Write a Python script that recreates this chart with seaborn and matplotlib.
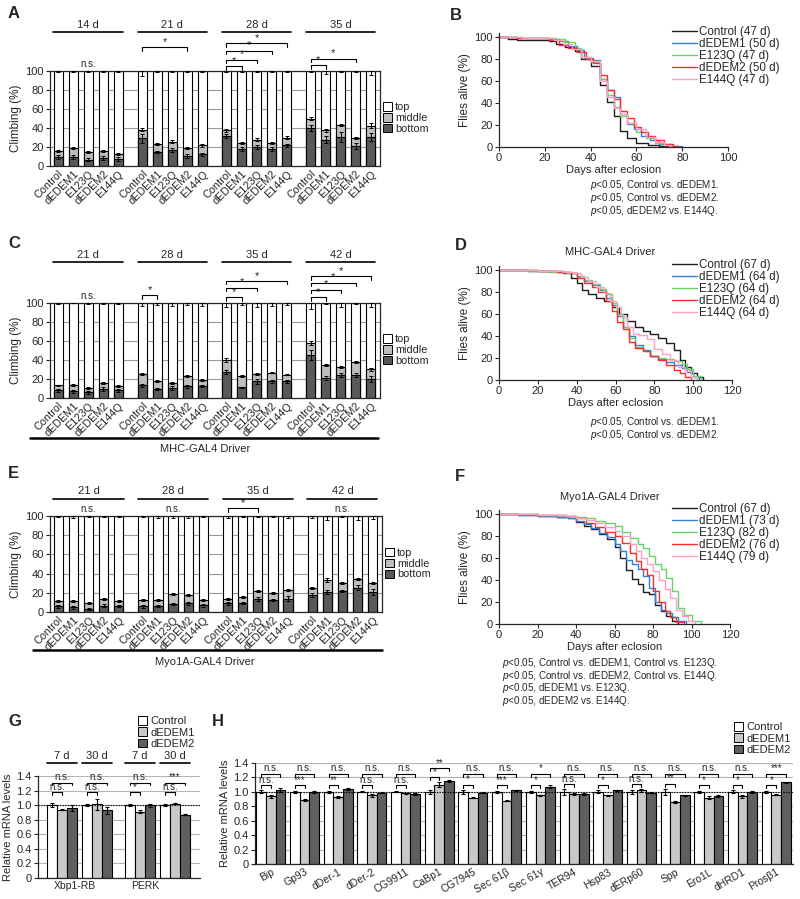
import matplotlib
matplotlib.use("Agg")
import matplotlib.pyplot as plt
import pandas as pd
import seaborn as sns
from matplotlib.lines import Line2D
from matplotlib.patches import Patch

sns.set_style("ticks")
plt.rcParams["font.family"] = ["Liberation Sans", "DejaVu Sans"]
plt.rcParams["mathtext.fontset"] = "custom"
plt.rcParams["mathtext.it"] = "Liberation Sans:italic"
plt.rcParams["mathtext.rm"] = "Liberation Sans"
plt.rcParams["axes.linewidth"] = 0.9

W, H = 800, 899

genotypes = ["Control", "dEDEM1", "E123Q", "dEDEM2", "E144Q"]

# ---- climbing assays (bottom and bottom+middle, %) ----
a_days = ["14 d", "21 d", "28 d", "35 d"]
a_bottom = [[9.5, 9.5, 6.7, 8.8, 7.4], [29, 14.8, 17, 10.6, 12.3],
            [31.3, 17.6, 20, 17.6, 21.8], [40, 27.8, 30.6, 20.8, 30.6]]
a_total = [[16, 19, 15, 15.5, 12.3], [38.4, 23, 25.4, 19.4, 21.8],
           [37.7, 24.6, 27.8, 24.6, 29.9], [49.6, 37.7, 43, 29.6, 42.3]]
a_bottom_err = [[2, 2, 1.5, 2, 2], [5, 1.5, 2, 2, 1.5], [2, 2, 2, 2, 1.5], [3, 4, 5, 3, 4]]
a_total_err = [[1, 1.5, 1, 1, 1], [2, 1, 1.5, 1, 1.5], [1.5, 1, 1.5, 1, 1.5], [1.5, 1.5, 1, 1, 2.5]]
a_top_err = [[1, 1, 1, 1, 1], [5, 1, 1, 1, 1], [1, 1, 1, 1, 1], [1, 3, 1, 1, 4]]
a_brackets = [(1, 0, 3, 125, "*"), (2, 0, 1, 105, "*"), (2, 0, 2, 112, "*"), (2, 0, 3, 121, "*"),
              (2, 0, 4, 129, "*"), (3, 0, 1, 106, "*"), (3, 0, 3, 113, "*")]
a_ns = [(0, 102)]

c_days = ["21 d", "28 d", "35 d", "42 d"]
c_bottom = [[8, 7, 6, 9.8, 8], [13.6, 9.4, 10.5, 12.2, 12.2],
            [27.5, 11.1, 17.4, 17.4, 17.4], [45.3, 20.9, 24.4, 24.4, 20.2]]
c_total = [[13.2, 13.6, 10.5, 16, 12.9], [25, 17.8, 16, 23.3, 19.2],
           [39.7, 23.3, 25.4, 26.8, 24.7], [58, 34.8, 32.4, 37.6, 30.3]]
c_bottom_err = [[1.5, 1.5, 1.5, 2, 1.5], [1.5, 1.5, 2, 1.5, 1], [2, 1, 3, 2, 2], [5, 2, 2, 2, 3]]
c_total_err = [[1, 1, 1, 1, 1], [1, 1, 1, 1, 1], [2, 1, 1, 1, 1], [2, 1.5, 1, 1, 1.5]]
c_top_err = [[1, 0.5, 1, 1, 1], [3, 2, 3, 2, 3], [4, 2, 4, 3, 2], [6, 1, 4, 1, 4]]
c_brackets = [(1, 0, 1, 108, "*"), (2, 0, 1, 106, "*"), (2, 0, 2, 116, "*"), (2, 0, 4, 123, "*"),
              (3, 0, 1, 106, "*"), (3, 0, 2, 114, "*"), (3, 0, 3, 121, "*"), (3, 0, 4, 128, "*")]
c_ns = [(0, 102)]

e_days = ["21 d", "28 d", "35 d", "42 d"]
e_bottom = [[5.9, 4.9, 2.8, 6.6, 6.3], [5.9, 6.3, 8.3, 9, 7],
            [9, 9, 13.6, 12.2, 13.9], [18.1, 21.2, 21.9, 25.4, 20.5]]
e_total = [[11.8, 11.1, 9, 13.6, 11.8], [12.2, 12.9, 18.4, 17.4, 12.9],
           [13.2, 16, 21.9, 19.8, 23], [24.7, 33, 30, 34.4, 30.3]]
e_bottom_err = [[1.5, 1.5, 1, 1.5, 1.5], [1.5, 1.5, 1.5, 1.5, 1.5], [1.5, 1, 2, 1, 2.5], [2, 2, 1.5, 3, 3]]
e_total_err = [[1, 1, 1, 1, 1], [1, 1, 1, 1, 1], [1, 1, 1, 1, 1], [1, 2, 1, 1, 1]]
e_top_err = [[1, 2, 1, 1, 1], [1, 2, 2, 2, 1], [2, 1, 1, 1, 2], [2, 4, 1, 4, 3]]
e_brackets = [(2, 0, 2, 108, "*")]
e_ns = [(0, 102), (1, 102), (3, 102)]

# ---- survival curves (day, % alive) ----
b_labels = ["Control (47 d)", "dEDEM1 (50 d)", "E123Q (47 d)", "dEDEM2 (50 d)", "E144Q (47 d)"]
b_ctrl_t = [0, 4, 8, 22, 25, 29, 33, 36, 40, 44, 47, 50, 53, 56, 60, 65, 70, 74]
b_ctrl_s = [100, 98, 97, 96, 94, 91, 87, 80, 74, 56, 41, 28, 15, 8, 4, 2, 1, 0]
b_ed1_t = [0, 8, 22, 26, 30, 34, 37, 41, 44, 47, 50, 53, 56, 59, 62, 66, 70, 75, 80]
b_ed1_s = [100, 99, 98, 96, 92, 88, 81, 79, 62, 52, 45, 30, 21, 16, 10, 6, 3, 1, 0]
b_e123_t = [0, 10, 25, 29, 33, 36, 40, 44, 47, 50, 53, 56, 60, 64, 68, 72, 76]
b_e123_s = [100, 99, 98, 95, 90, 82, 77, 62, 47, 36, 28, 22, 14, 8, 4, 2, 0]
b_ed2_t = [0, 8, 22, 26, 30, 34, 38, 41, 44, 47, 50, 53, 56, 59, 62, 65, 68, 72, 76, 78]
b_ed2_s = [100, 99, 97, 93, 90, 86, 80, 76, 65, 52, 44, 33, 26, 18, 14, 10, 6, 3, 1, 0]
b_e144_t = [0, 10, 24, 28, 32, 36, 40, 44, 47, 50, 53, 56, 60, 64, 68, 72, 75]
b_e144_s = [100, 99, 97, 94, 89, 82, 78, 60, 45, 35, 30, 22, 16, 9, 5, 2, 0]

d_labels = ["Control (67 d)", "dEDEM1 (64 d)", "E123Q (64 d)", "dEDEM2 (64 d)", "E144Q (64 d)"]
d_ctrl_t = [0, 15, 33, 37, 40, 43, 46, 50, 54, 58, 62, 66, 70, 74, 78, 82, 86, 90, 93, 96, 99, 102, 105]
d_ctrl_s = [100, 99, 97, 93, 88, 82, 78, 75, 72, 66, 60, 54, 48, 45, 42, 38, 34, 27, 18, 12, 6, 3, 0]
d_ed1_t = [0, 20, 30, 37, 40, 44, 48, 52, 55, 58, 61, 64, 67, 70, 74, 78, 82, 86, 90, 94, 97, 100, 103]
d_ed1_s = [100, 99, 98, 97, 94, 90, 86, 82, 75, 68, 58, 48, 40, 32, 27, 22, 19, 16, 14, 11, 7, 3, 0]
d_e123_t = [0, 15, 25, 35, 40, 44, 48, 52, 55, 58, 61, 64, 67, 70, 74, 78, 82, 86, 90, 94, 97, 100, 104]
d_e123_s = [100, 99, 98, 97, 95, 91, 87, 83, 78, 70, 60, 48, 38, 30, 26, 22, 20, 19, 17, 15, 10, 4, 0]
d_ed2_t = [0, 20, 30, 37, 40, 44, 48, 51, 55, 58, 61, 64, 67, 70, 74, 78, 82, 86, 90, 93, 96, 99]
d_ed2_s = [100, 99, 98, 97, 93, 88, 85, 80, 72, 63, 53, 46, 35, 29, 26, 22, 18, 14, 9, 6, 3, 0]
d_e144_t = [0, 20, 33, 38, 42, 46, 50, 54, 57, 60, 63, 66, 69, 72, 76, 80, 84, 88, 92, 96, 99, 102]
d_e144_s = [100, 99, 98, 97, 94, 90, 85, 79, 72, 66, 57, 48, 42, 41, 37, 28, 24, 18, 12, 8, 3, 0]

f_labels = ["Control (67 d)", "dEDEM1 (73 d)", "E123Q (82 d)", "dEDEM2 (76 d)", "E144Q (79 d)"]
f_ctrl_t = [0, 10, 20, 30, 36, 40, 44, 48, 52, 56, 60, 63, 66, 69, 72, 75, 78, 81, 84, 87, 90, 93]
f_ctrl_s = [100, 99, 98, 97, 96, 93, 89, 86, 82, 77, 70, 60, 49, 41, 36, 29, 27, 17, 12, 7, 3, 0]
f_ed1_t = [0, 10, 20, 30, 36, 40, 44, 48, 52, 56, 60, 63, 66, 69, 72, 75, 78, 81, 84, 87, 90, 93, 97]
f_ed1_s = [100, 99, 98, 97, 96, 94, 91, 87, 83, 79, 73, 66, 58, 55, 50, 44, 33, 20, 13, 10, 6, 3, 0]
f_e123_t = [0, 20, 35, 40, 45, 50, 55, 60, 64, 68, 72, 75, 78, 81, 84, 87, 90, 93, 96, 100, 105]
f_e123_s = [100, 99, 98, 97, 96, 94, 92, 89, 84, 78, 73, 69, 62, 55, 50, 42, 30, 15, 8, 3, 0]
f_ed2_t = [0, 20, 35, 40, 45, 50, 55, 60, 64, 68, 71, 74, 77, 80, 83, 86, 89, 92, 96]
f_ed2_s = [100, 99, 98, 96, 92, 88, 84, 80, 74, 65, 57, 50, 45, 30, 20, 12, 6, 2, 0]
f_e144_t = [0, 20, 35, 40, 45, 50, 55, 60, 64, 68, 71, 74, 77, 80, 83, 86, 89, 92, 95, 98, 102]
f_e144_s = [100, 99, 98, 96, 95, 92, 88, 85, 80, 73, 66, 60, 55, 48, 40, 32, 24, 13, 7, 3, 0]

# ---- qPCR ----
qpcr_lines = ["Control", "dEDEM1", "dEDEM2"]
g_days = ["7 d", "30 d", "7 d", "30 d"]
g_genes = ["Xbp1-RB", "PERK"]
g_ctrl = [1.00, 1.00, 1.00, 1.00]
g_ctrl_err = [0.03, 0.01, 0.01, 0.01]
g_ed1 = [0.94, 1.01, 0.91, 1.02]
g_ed1_err = [0.01, 0.08, 0.02, 0.01]
g_ed2 = [0.96, 0.93, 1.00, 0.87]
g_ed2_err = [0.04, 0.05, 0.02, 0.01]
g_sig_ed1 = ["n.s.", "n.s.", "*", "n.s."]
g_sig_ed2 = ["n.s.", "n.s.", "n.s.", "***"]

h_genes = ["Bip", "Gp93", "dDer-1", "dDer-2", "CG9911", "CaBp1", "CG7945", "Sec 61β",
           "Sec 61γ", "TER94", "Hsp83", "dERp60", "Spp", "Ero1L", "dHRD1", "Prosβ1"]
h_ctrl = [1.00, 1.00, 1.00, 1.00, 1.00, 1.00, 1.00, 1.00, 1.00, 1.00, 1.00, 1.00, 1.00, 1.00, 1.00, 1.00]
h_ctrl_err = [0.02, 0.01, 0.01, 0.005, 0.005, 0.03, 0.03, 0.01, 0.01, 0.04, 0.02, 0.03, 0.04, 0.01, 0.02, 0.01]
h_ed1 = [0.94, 0.89, 0.93, 0.95, 0.98, 1.10, 0.92, 0.88, 0.95, 0.97, 0.95, 1.02, 0.86, 0.92, 0.94, 0.96]
h_ed1_err = [0.02, 0.01, 0.01, 0.02, 0.01, 0.03, 0.01, 0.01, 0.01, 0.01, 0.01, 0.02, 0.01, 0.02, 0.02, 0.01]
h_ed2 = [1.03, 1.00, 1.04, 0.99, 0.97, 1.15, 0.99, 1.02, 1.07, 0.97, 1.02, 0.99, 0.95, 0.94, 1.00, 1.13]
h_ed2_err = [0.03, 0.01, 0.01, 0.005, 0.02, 0.02, 0.01, 0.01, 0.02, 0.01, 0.01, 0.01, 0.01, 0.01, 0.01, 0.01]
h_sig_ed1 = ["n.s.", "***", "**", "n.s.", "n.s.", "*", "*", "***", "*", "n.s.", "*", "n.s.", "**", "*", "*", "*"]
h_sig_ed2 = ["n.s.", "n.s.", "n.s.", "n.s.", "n.s.", "**", "n.s.", "n.s.", "*", "n.s.", "n.s.", "n.s.", "n.s.",
             "n.s.", "n.s.", "***"]

surv_colors = ["#1e1e1e", "#2f80d8", "#66d466", "#ff2a2a", "#ff9fc6"]
stack_colors = ["white", "#bdbdbd", "#595959"]
qpcr_colors = ["white", "#c8c8c8", "#5f5f5f"]

fig = plt.figure(figsize=(8, 8.99), dpi=100)


def add_ax(l, t, r, b):
    return fig.add_axes([l / W, 1 - b / H, (r - l) / W, (b - t) / H])


def fig_text(x, y, s, **kw):
    fig.text(x / W, 1 - y / H, s, **kw)


def fig_line(x1, x2, y, lw=1.8):
    fig.add_artist(Line2D([x1 / W, x2 / W], [1 - y / H, 1 - y / H], transform=fig.transFigure,
                          color="black", lw=lw))


def climbing(ax, days, bottom, total, e_bot, e_tot, e_top, brackets, ns, line_lvl):
    rows = []
    for g in range(4):
        for i, name in enumerate(genotypes):
            rows.append({"pos": g * 5.6 + i, "name": name, "full": 100,
                         "total": total[g][i], "bottom": bottom[g][i],
                         "e_bot": e_bot[g][i], "e_tot": e_tot[g][i], "e_top": e_top[g][i]})
    df = pd.DataFrame(rows)
    ax.yaxis.grid(True, color="#9a9a9a", lw=0.8)
    ax.set_axisbelow(True)
    for col, c in zip(["full", "total", "bottom"], stack_colors):
        sns.barplot(data=df, x="pos", y=col, native_scale=True, orient="x", width=0.62, color=c,
                    saturation=1, edgecolor="black", linewidth=0.8, errorbar=None, ax=ax)
    kw = dict(fmt="none", ecolor="black", elinewidth=0.7, capsize=1.6, capthick=0.7, zorder=4)
    ax.errorbar(df["pos"], df["bottom"], yerr=df["e_bot"], **kw)
    ax.errorbar(df["pos"], df["total"], yerr=df["e_tot"], **kw)
    ax.errorbar(df["pos"], df["full"], yerr=[df["e_top"], [0] * len(df)], **kw)
    ax.set_xlim(-0.55, 3 * 5.6 + 4 + 0.62)
    ax.set_ylim(0, 100)
    ax.set_yticks(range(0, 101, 20))
    ax.set_xticks(df["pos"], df["name"], rotation=45, ha="right", rotation_mode="anchor")
    ax.tick_params(axis="x", length=0, pad=2, labelsize=7.8)
    ax.tick_params(axis="y", length=3, width=0.8, pad=1.5, labelsize=8)
    ax.set_xlabel("")
    ax.set_ylabel("Climbing (%)", fontsize=8.5, labelpad=2)
    for s in ax.spines.values():
        s.set_visible(True)
        s.set_linewidth(0.9)
    for g, d in enumerate(days):
        x0, x1 = g * 5.6 - 0.32, g * 5.6 + 4.32
        ax.plot([x0, x1], [line_lvl, line_lvl], color="black", lw=1.2, clip_on=False)
        ax.text((x0 + x1) / 2, line_lvl + 2.5, d, ha="center", va="bottom", fontsize=8)
    for g, i, j, lvl, lab in brackets:
        xi, xj = g * 5.6 + i, g * 5.6 + j
        ax.plot([xi, xi, xj, xj], [lvl - 3.5, lvl, lvl, lvl - 3.5], color="black", lw=0.8, clip_on=False)
        ax.text((xi + xj) / 2, lvl + 0.5, lab, ha="center", va="bottom", fontsize=8)
    for g, lvl in ns:
        ax.text(g * 5.6 + 2, lvl, "n.s.", ha="center", va="bottom", fontsize=7)
    handles = [Patch(facecolor=c, edgecolor="black", lw=0.7) for c in stack_colors]
    ax.legend(handles, ["top", "middle", "bottom"], loc="upper left",
              bbox_to_anchor=(1.01, 0.67), frameon=False, fontsize=7.8,
              handlelength=0.8, handleheight=0.8, handletextpad=0.3, labelspacing=0.08,
              borderpad=0, borderaxespad=0)


def survival(ax, curves, labels, xmax, leg_xy):
    for (t, s), lab, c in zip(curves, labels, surv_colors):
        sns.lineplot(x=t, y=s, drawstyle="steps-post", color=c, lw=1.0, label=lab, ax=ax)
    ax.set_xlim(0, xmax)
    ax.set_ylim(0, 104)
    ax.set_xticks(range(0, xmax + 1, 20))
    ax.set_yticks(range(0, 101, 20))
    sns.despine(ax=ax)
    ax.tick_params(length=3, width=0.8, pad=1.5, labelsize=8)
    ax.set_xlabel("Days after eclosion", fontsize=8, labelpad=1)
    ax.set_ylabel("Flies alive (%)", fontsize=8.5, labelpad=2)
    ax.legend(loc="upper left", bbox_to_anchor=(leg_xy[0] / W, 1 - leg_xy[1] / H),
              bbox_transform=fig.transFigure, frameon=False, fontsize=8.4, handlelength=2.1,
              handletextpad=0.2, labelspacing=0.0, borderpad=0, borderaxespad=0)


def p_texts(x, y, lines, step):
    for k, s in enumerate(lines):
        fig_text(x, y + step * k, s, ha="left", va="center", fontsize=7.1)


def qpcr(ax, pos, ctrl, ce, ed1, e1, ed2, e2, sig1, sig2, base1, base2, width=0.86):
    df = pd.DataFrame({"pos": list(pos) * 3,
                       "line": [qpcr_lines[0]] * len(pos) + [qpcr_lines[1]] * len(pos) + [qpcr_lines[2]] * len(pos),
                       "value": list(ctrl) + list(ed1) + list(ed2)})
    ax.yaxis.grid(True, color="#b4b4b4", lw=0.8)
    ax.set_axisbelow(True)
    sns.barplot(data=df, x="pos", y="value", hue="line", hue_order=qpcr_lines, native_scale=True,
                orient="x", palette=qpcr_colors, saturation=1, width=width, edgecolor="black",
                linewidth=0.8, errorbar=None, legend=False, ax=ax)
    step = width / 3
    for k, (vals, errs) in enumerate([(ctrl, ce), (ed1, e1), (ed2, e2)]):
        xs = [p + (k - 1) * step for p in pos]
        ax.errorbar(xs, vals, yerr=errs, fmt="none", ecolor="black", elinewidth=0.8,
                    capsize=1.5, capthick=0.8, zorder=4)
    ax.axhline(1.0, color="black", lw=0.8, ls=(0, (1.2, 1.2)), zorder=5)
    for p, a, ae, b, be, c, cerr, s1, s2 in zip(pos, ctrl, ce, ed1, e1, ed2, e2, sig1, sig2):
        lo = max(base1, max(a + ae, b + be) + 0.07)
        hi = max(base2, lo + 0.13, c + cerr + 0.07)
        x0, x1, x2 = p - step, p, p + step
        ax.plot([x0, x0, x1, x1], [lo - 0.04, lo, lo, lo - 0.04], color="black", lw=0.8, clip_on=False)
        ax.text((x0 + x1) / 2, lo + 0.005, s1, ha="center", va="bottom", fontsize=7)
        ax.plot([x0, x0, x2, x2], [hi - 0.04, hi, hi, hi - 0.04], color="black", lw=0.8, clip_on=False)
        ax.text((x0 + x2) / 2, hi + 0.005, s2, ha="center", va="bottom", fontsize=7)
    ax.set_ylim(0, 1.4)
    ax.set_yticks([0, 0.2, 0.4, 0.6, 0.8, 1.0, 1.2, 1.4], ["0", "0.2", "0.4", "0.6", "0.8", "1.0", "1.2", "1.4"])
    sns.despine(ax=ax)
    ax.tick_params(axis="y", length=3, width=0.8, pad=1.5, labelsize=8)
    ax.tick_params(axis="x", length=0, pad=2, labelsize=7.5)
    ax.set_xlabel("")
    ax.set_ylabel("Relative mRNA levels", fontsize=8, labelpad=2)
    handles = [Patch(facecolor=c, edgecolor="black", lw=0.7) for c in qpcr_colors]
    return handles


# ---- A, C, E ----
ax_a = add_ax(50, 71, 380, 166)
climbing(ax_a, a_days, a_bottom, a_total, a_bottom_err, a_total_err, a_top_err, a_brackets, a_ns, 141)
ax_c = add_ax(50, 303, 380, 398)
climbing(ax_c, c_days, c_bottom, c_total, c_bottom_err, c_total_err, c_top_err, c_brackets, c_ns, 143)
ax_e = add_ax(50, 516, 382, 612)
climbing(ax_e, e_days, e_bottom, e_total, e_bottom_err, e_total_err, e_top_err, e_brackets, e_ns, 118)

fig_line(30, 378, 438)
fig_text(205, 449, "MHC-GAL4 Driver", ha="center", va="center", fontsize=8)
fig_line(33, 382, 650)
fig_text(205, 662, "Myo1A-GAL4 Driver", ha="center", va="center", fontsize=8)

# ---- B, D, F ----
ax_b = add_ax(499, 32.6, 728, 147)
survival(ax_b, [(b_ctrl_t, b_ctrl_s), (b_ed1_t, b_ed1_s), (b_e123_t, b_e123_s), (b_ed2_t, b_ed2_s),
                (b_e144_t, b_e144_s)], b_labels, 100, (672, 26))
p_texts(590, 185, ["$p$<0.05, Control vs. dEDEM1.", "$p$<0.05, Control vs. dEDEM2.",
                   "$p$<0.05, dEDEM2 vs. E144Q."], 13)

ax_d = add_ax(499, 265.6, 732, 380)
survival(ax_d, [(d_ctrl_t, d_ctrl_s), (d_ed1_t, d_ed1_s), (d_e123_t, d_e123_s), (d_ed2_t, d_ed2_s),
                (d_e144_t, d_e144_s)], d_labels, 120, (672, 259))
fig_text(610, 252, "MHC-GAL4 Driver", ha="center", va="center", fontsize=8)
p_texts(590, 422, ["$p$<0.05, Control vs. dEDEM1.", "$p$<0.05, Control vs. dEDEM2."], 12.5)

ax_f = add_ax(499, 509.6, 730, 624)
survival(ax_f, [(f_ctrl_t, f_ctrl_s), (f_ed1_t, f_ed1_s), (f_e123_t, f_e123_s), (f_ed2_t, f_ed2_s),
                (f_e144_t, f_e144_s)], f_labels, 120, (672, 503))
fig_text(610, 497, "Myo1A-GAL4 Driver", ha="center", va="center", fontsize=8)
p_texts(502, 663, ["$p$<0.05, Control vs. dEDEM1, Control vs. E123Q.",
                   "$p$<0.05, Control vs. dEDEM2, Control vs. E144Q.",
                   "$p$<0.05, dEDEM1 vs. E123Q.", "$p$<0.05, dEDEM2 vs. E144Q."], 12.7)

# ---- G ----
ax_g = add_ax(38, 776, 200, 878)
g_pos = [0, 1, 2.23, 3.23]
handles = qpcr(ax_g, g_pos, g_ctrl, g_ctrl_err, g_ed1, g_ed1_err, g_ed2, g_ed2_err,
               g_sig_ed1, g_sig_ed2, 1.18, 1.31)
ax_g.set_xlim(-0.686, 3.94)
ax_g.set_xticks([0.36, 2.37], g_genes)
for p, d in zip(g_pos, g_days):
    ax_g.plot([p - 0.43, p + 0.43], [1.58, 1.58], color="black", lw=1.2, clip_on=False)
    ax_g.text(p, 1.60, d, ha="center", va="bottom", fontsize=8)
ax_g.legend(handles, qpcr_lines, loc="upper left", bbox_to_anchor=(138 / W, 1 - 716 / H),
            bbox_transform=fig.transFigure, frameon=False, fontsize=8, handlelength=0.8,
            handleheight=0.8, handletextpad=0.3, labelspacing=0.12, borderpad=0, borderaxespad=0)

# ---- H ----
ax_h = add_ax(255, 763, 793, 864)
h_pos = list(range(len(h_genes)))
handles = qpcr(ax_h, h_pos, h_ctrl, h_ctrl_err, h_ed1, h_ed1_err, h_ed2, h_ed2_err,
               h_sig_ed1, h_sig_ed2, 1.09, 1.25)
ax_h.set_xlim(-0.47, 15.5)
ax_h.set_xticks(h_pos, h_genes, rotation=30, ha="right", rotation_mode="anchor")
ax_h.legend(handles, qpcr_lines, loc="upper left", bbox_to_anchor=(734 / W, 1 - 722 / H),
            bbox_transform=fig.transFigure, frameon=False, fontsize=8, handlelength=0.8,
            handleheight=0.8, handletextpad=0.3, labelspacing=0.12, borderpad=0, borderaxespad=0)

# panel letters
for lab, x, y in [("A", 8, 14), ("B", 450, 15), ("C", 8, 243), ("D", 455, 245),
                  ("E", 8, 473), ("F", 455, 477), ("G", 8, 722), ("H", 212, 722)]:
    fig_text(x, y, lab, ha="left", va="center", fontsize=12, fontweight="bold")

fig.savefig("out.png", dpi=100)
